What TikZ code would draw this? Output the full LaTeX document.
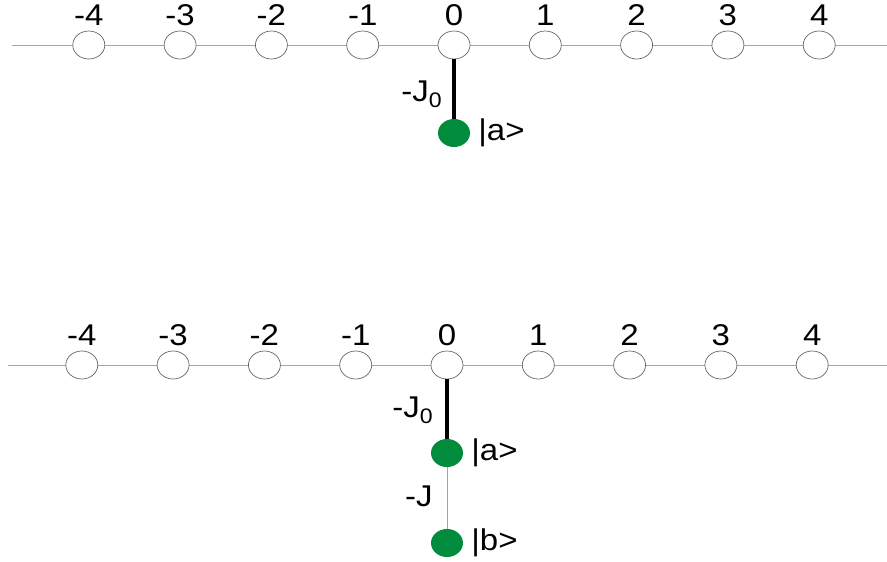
\documentclass[tikz,border=0pt]{standalone}
\usepackage{fontspec}
\setmainfont{Liberation Sans}[FakeStretch=1.1]
\usetikzlibrary{positioning,shapes.geometric}

\definecolor{dotgreen}{RGB}{0,140,60}

\def\gap{91.3}
\def\scale{1}

\tikzset{
 site/.style={ellipse,draw=gray!80!black,fill=white,line width=0.7pt,
  minimum width=32pt,minimum height=28pt,inner sep=0pt},
 state/.style={ellipse,fill=dotgreen,minimum width=32pt,minimum height=28pt,inner sep=0pt},
 chain/.style={draw=gray!70,line width=0.8pt},
 bond/.style={line width=3.5pt,black},
 weak/.style={line width=0.6pt,gray!70},
 lbl/.style={inner sep=0pt,text=black,font=\fontsize{30}{34}\selectfont}
}

\begin{document}
\begin{tikzpicture}[x=\scale pt,y=-\scale pt]
 \useasboundingbox (0,0) rectangle (887,562);
 % Top chain
 \coordinate (tl) at (12,45);
 \coordinate (tr) at (887,45);
 \draw[chain] (tl) -- (tr);
 \foreach \i in {-4,...,4} {
  \node[site] (t\i) at (454+\i*\gap,45) {};
  \node[lbl,above=5pt of t\i] {\i};
 }
 % Impurity
 \node[state] (ta) at (454,133) {};
 \draw[bond] (t0) -- (ta) node[lbl,midway,left=10pt,yshift=-5pt] {-J\textsubscript{0}};
 \node[lbl,right=8pt of ta] {|a>};

 % Bottom chain
 \coordinate (bl) at (8,365);
 \coordinate (br) at (887,365);
 \draw[chain] (bl) -- (br);
 \foreach \i in {-4,...,4} {
  \node[site] (b\i) at (447+\i*\gap,365) {};
  \node[lbl,above=5pt of b\i] {\i};
 }
 % Two impurities
 \node[state] (ba) at (447,453) {};
 \node[state] (bb) at (447,543) {};
 \draw[bond] (b0) -- (ba) node[lbl,midway,left=12pt,yshift=-1pt] {-J\textsubscript{0}};
 \draw[weak] (ba) -- (bb) node[lbl,midway,left=14pt,yshift=2pt] {-J};
 \node[lbl,right=8pt of ba] {|a>};
 \node[lbl,right=8pt of bb] {|b>};
\end{tikzpicture}
\end{document}
